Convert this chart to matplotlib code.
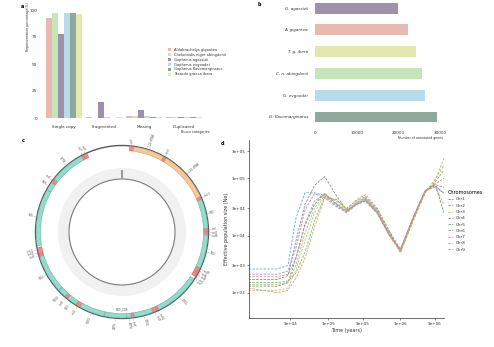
import numpy as np
import matplotlib.pyplot as plt
from matplotlib.patches import Wedge, Circle

# ---- a: BUSCO completeness ----
busco_cats = ['Single copy', 'Fragmented', 'Missing', 'Duplicated']
busco_species = ['Aldabrachelys gigantea', 'Chelonoidis niger abingdonii', 'Gopherus agassizii',
                 'Gopherus evgoodei', 'Gopherus flavomarginatus', 'Testudo graeca ibera']
busco_vals = [
    [92.3, 0.5, 1.9, 0.5],
    [97.0, 0.4, 1.5, 0.6],
    [77.5, 15.0, 7.8, 1.3],
    [97.0, 0.5, 2.0, 0.6],
    [97.5, 0.4, 1.2, 1.0],
    [96.0, 0.5, 1.0, 0.7],
]
busco_colors = ['#e8b9b1', '#c7e5b8', '#9e92ab', '#b6dbea', '#8ea99c', '#e4e8b0']

# ---- b: annotated genes ----
gene_species = ['G. flavomarginatus', 'G. evgoodei', 'C. n. abingdonii', 'T. g. ibera', 'A. gigantea', 'G. agassizii']
gene_counts = [29200, 26500, 25700, 24200, 22300, 20000]
gene_colors = ['#8ea99c', '#b6dbea', '#c7e5b8', '#e4e8b0', '#e8b9b1', '#9e92ab']

# ---- c: mitogenome map (bp) ----
mito_len = 16500
mito_names = ['trnF', '12S rRNA', 'trnV', '16S rRNA', 'trnL2', 'ND1', 'trnI', 'trnQ', 'trnM', 'ND2',
              'trnW', 'trnA', 'trnN', 'trnC', 'trnY', 'COX1', 'trnS2', 'trnD', 'COX2', 'trnK', 'ATP8',
              'ATP6', 'COX3', 'trnG', 'ND3', 'trnR', 'ND4L', 'ND4', 'trnH', 'trnS1', 'trnL1', 'ND5',
              'ND6', 'trnE', 'CYTB', 'trnT', 'trnP']
mito_start = [230, 370, 1330, 1420, 3020, 3110, 4030, 4080, 4130, 4220, 5270, 5320, 5370, 5420, 5470,
              5640, 7100, 7150, 7290, 7880, 7970, 8110, 8800, 9600, 9740, 10060, 10150, 10420, 11620,
              11670, 11720, 11950, 13720, 13990, 14120, 15220, 15290]
mito_end = [360, 1320, 1410, 3010, 3100, 4020, 4070, 4120, 4200, 5260, 5310, 5360, 5410, 5460, 5560,
            7090, 7140, 7280, 7870, 7960, 8100, 8790, 9590, 9730, 10050, 10140, 10410, 11610, 11660,
            11710, 11900, 13710, 13980, 14110, 15210, 15280, 15400]
mito_type = ['tRNA', 'rRNA', 'tRNA', 'rRNA', 'tRNA', 'CDS', 'tRNA', 'tRNA', 'tRNA', 'CDS',
             'tRNA', 'tRNA', 'tRNA', 'tRNA', 'tRNA', 'CDS', 'tRNA', 'tRNA', 'CDS', 'tRNA', 'CDS',
             'CDS', 'CDS', 'tRNA', 'CDS', 'tRNA', 'CDS', 'CDS', 'tRNA', 'tRNA', 'tRNA', 'CDS',
             'CDS', 'tRNA', 'CDS', 'tRNA', 'tRNA']
type_colors = {'CDS': '#93dccb', 'rRNA': '#f3c996', 'tRNA': '#ec8c8c'}
type_edges = {'CDS': '#4fa58f', 'rRNA': '#c8955c', 'tRNA': '#d06060'}

# ---- d: PSMC ----
psmc_time = [8e3, 2.0e4, 2.8e4, 3.6e4, 4.8e4, 6.5e4, 9e4, 1.3e5, 1.8e5, 2.5e5, 3.3e5, 4.8e5,
             7e5, 1.0e6, 1.5e6, 2.2e6, 3.0e6, 4.0e6]
chr_names = ['Chr1', 'Chr2', 'Chr3', 'Chr4', 'Chr5', 'Chr6', 'Chr7', 'Chr8', 'Chr9']
chr_ne = [
    [1.3e3, 1.3e3, 1.5e3, 4e3, 1.5e4, 3.5e4, 5.5e4, 3.5e4, 2.6e4, 3.6e4, 4.3e4, 2.6e4, 1.1e4, 5.5e3, 2.0e4, 6.0e4, 8e4, 2.5e4],
    [2.6e3, 2.6e3, 3e3, 2e4, 5.6e4, 5.6e4, 5e4, 3.3e4, 2.7e4, 3.8e4, 4.5e4, 2.8e4, 1.2e4, 5.8e3, 2.1e4, 6.2e4, 7e4, 5.5e4],
    [1.1e3, 1.1e3, 1.2e3, 2.5e3, 8e3, 2.5e4, 5.2e4, 4e4, 2.8e4, 3.9e4, 4.6e4, 2.7e4, 1.1e4, 5.2e3, 1.9e4, 5.8e4, 9e4, 2.3e5],
    [1.7e3, 1.7e3, 2e3, 8e3, 3.5e4, 7.5e4, 1.08e5, 5e4, 2.8e4, 3.5e4, 4e4, 2.4e4, 1e4, 5.6e3, 2.0e4, 6.0e4, 7.5e4, 5.5e4],
    [1.5e3, 1.5e3, 1.6e3, 2.2e3, 5e3, 1.8e4, 4.8e4, 4.2e4, 3e4, 4.1e4, 4.8e4, 2.9e4, 1.2e4, 5e3, 1.8e4, 5.6e4, 8.5e4, 1.4e5],
    [2.1e3, 2.1e3, 2.4e3, 6e3, 2.8e4, 5.4e4, 4.6e4, 3.2e4, 2.5e4, 3.5e4, 4.2e4, 2.6e4, 1.05e4, 5.4e3, 2.0e4, 6.1e4, 7.8e4, 7e4],
    [1.2e3, 1.0e3, 1.1e3, 1.8e3, 4e3, 1.4e4, 4.5e4, 4.3e4, 2.9e4, 4.3e4, 5.2e4, 3e4, 1.2e4, 5.3e3, 1.9e4, 5.9e4, 7.2e4, 3.5e4],
    [1.4e3, 1.4e3, 1.5e3, 3e3, 1.1e4, 3e4, 5.4e4, 3.7e4, 2.7e4, 3.7e4, 4.4e4, 2.5e4, 1e4, 5.1e3, 1.9e4, 5.7e4, 9.5e4, 1.7e5],
    [1.9e3, 1.9e3, 2.1e3, 4e3, 1.6e4, 4e4, 5.3e4, 3.6e4, 2.6e4, 3.6e4, 4.1e4, 2.5e4, 1.05e4, 5.7e3, 2.05e4, 6.0e4, 8e4, 1e5],
]
chr_colors = ['#4f9a94', '#6fa8c8', '#b5c98a', '#8a8a8a', '#7fb07f', '#a58cc0', '#d9a066', '#c9b35e', '#c29090']

W, H = 494, 347
fig = plt.figure(figsize=(W / 100, H / 100), dpi=100)
txt = '#333333'


def box(x0, y0, x1, y1):
    # pixel box -> figure fraction
    return [x0 / W, 1 - y1 / H, (x1 - x0) / W, (y1 - y0) / H]


# ---------- panel a ----------
ax = fig.add_axes(box(40, 10, 208, 118))
x = np.arange(len(busco_cats))
bw = 0.15
for i, sp in enumerate(busco_species):
    ax.bar(x + (i - 2.5) * bw, busco_vals[i], bw, color=busco_colors[i], label=sp)
ax.set_xlim(-0.6, 3.6)
ax.set_ylim(0, 100)
ax.set_yticks([0, 25, 50, 75, 100])
ax.set_xticks(x)
ax.set_xticklabels(busco_cats)
ax.tick_params(length=0, labelsize=3, colors=txt, pad=2)
ax.tick_params(axis='x', pad=5)
for s in ax.spines.values():
    s.set_visible(False)
ax.legend(loc='upper left', bbox_to_anchor=((166 - 40) / 168, 1 - (46 - 10) / 108), fontsize=2.6,
          frameon=False, handlelength=1.0, handleheight=0.9, handletextpad=0.6, labelspacing=0.25,
          borderpad=0, labelcolor=txt)
fig.text(195 / W, 1 - 132 / H, 'Busco categories', fontsize=2.4, color=txt, ha='center', va='center')
fig.text(28 / W, 1 - 27 / H, 'Representation percentage(%)', fontsize=2.3, color=txt,
         rotation=90, ha='center', va='center')
fig.text(22 / W, 1 - 6 / H, 'a', fontsize=3.5, fontweight='bold', ha='center', va='center')

# ---------- panel b ----------
ax = fig.add_axes(box(315, 0, 442, 127))
y = np.arange(len(gene_species))
ax.barh(y, gene_counts, height=0.5, color=gene_colors)
ax.set_yticks(y)
ax.set_yticklabels(gene_species, fontstyle='italic')
ax.set_xlim(0, 30500)
ax.set_ylim(-0.46, 5.37)
ax.set_xticks([0, 10000, 20000, 30000])
ax.tick_params(length=0, labelsize=3, colors=txt)
ax.tick_params(axis='y', pad=5)
ax.tick_params(axis='x', pad=3)
for s in ax.spines.values():
    s.set_visible(False)
fig.text(443 / W, 1 - 138 / H, 'Number of annotated genes', fontsize=2.3, color=txt, ha='right', va='center')
fig.text(259 / W, 1 - 5 / H, 'b', fontsize=3.5, fontweight='bold', ha='center', va='center')

# ---------- panel c ----------
ax = fig.add_axes(box(0, 135, 245, 347))
ax.set_xlim(0, 245)
ax.set_ylim(0, 212)
ax.axis('off')
cx, cy = 122, 347 - 232
ax.add_patch(Wedge((cx, cy), 64, 0, 360, width=11, facecolor='#f1f1f1', edgecolor='none'))
ax.add_patch(Circle((cx, cy), 53, fill=False, edgecolor='#7a7a7a', lw=0.8))
ax.add_patch(Wedge((cx, cy), 62, 89, 91, width=9, facecolor='#9a9a9a', edgecolor='none'))
ax.add_patch(Circle((cx, cy), 86.5, fill=False, edgecolor='#5a5a5a', lw=1.0))

mids = []
for s, e, t in zip(mito_start, mito_end, mito_type):
    a0 = s / mito_len * 360
    a1 = e / mito_len * 360
    ax.add_patch(Wedge((cx, cy), 86, 90 - a1, 90 - a0, width=4.5, facecolor=type_colors[t],
                       edgecolor=type_edges[t], lw=0.3))
    mids.append((a0 + a1) / 2)

# spread crowded labels apart a little
lab_ang = list(mids)
for i in range(1, len(lab_ang)):
    if lab_ang[i] - lab_ang[i - 1] < 2.2:
        lab_ang[i] = lab_ang[i - 1] + 2.2

for nm, am, a_true in zip(mito_names, lab_ang, mids):
    th = np.deg2rad(90 - am)
    tt = np.deg2rad(90 - a_true)
    ax.plot([cx + 87 * np.cos(tt), cx + 89.5 * np.cos(th)], [cy + 87 * np.sin(tt), cy + 89.5 * np.sin(th)],
            color='#888888', lw=0.2)
    r = 90
    rot = 90 - am
    ha = 'left'
    if am > 180:
        rot += 180
        ha = 'right'
    ax.text(cx + r * np.cos(th), cy + r * np.sin(th), nm, fontsize=2.0, color='#555555',
            rotation=rot, rotation_mode='anchor', ha=ha, va='center')
ax.text(cx, cy - 77, 'ND5_CDS', fontsize=2.0, color='#555555', ha='center', va='center')
fig.text(23 / W, 1 - 140 / H, 'c', fontsize=3.5, fontweight='bold', ha='center', va='center')

# ---------- panel d ----------
ax = fig.add_axes(box(249, 140, 444, 318))
for nm, ne, c in zip(chr_names, chr_ne, chr_colors):
    ax.plot(psmc_time, ne, ls='--', lw=0.6, color=c, label=nm, dashes=(3, 1.5))
ax.set_xscale('log')
ax.set_yscale('log')
ax.set_xlim(8.1e3, 4.0e6)
ax.set_ylim(3.6e2, 4.7e5)
ax.set_xticks([3e4, 1e5, 3e5, 1e6, 3e6])
ax.set_xticklabels(['3e+04', '1e+05', '3e+05', '1e+06', '3e+06'])
ax.set_yticks([1e3, 3e3, 1e4, 3e4, 1e5, 3e5])
ax.set_yticklabels(['1e+03', '3e+03', '1e+04', '3e+04', '1e+05', '3e+05'])
ax.minorticks_off()
ax.tick_params(length=1.2, width=0.4, labelsize=3, colors=txt, pad=1.5)
ax.spines['top'].set_visible(False)
ax.spines['right'].set_visible(False)
for s in ['left', 'bottom']:
    ax.spines[s].set_linewidth(0.5)
    ax.spines[s].set_color('#333333')
ax.set_xlabel('Time (years)', fontsize=3.5, color=txt, labelpad=1.5)
ax.set_ylabel('Effective population size (Ne)', fontsize=3.5, color=txt, labelpad=2)
leg = ax.legend(title='Chromosomes', loc='upper left', bbox_to_anchor=(1.01, 1 - (188 - 140) / 178),
                fontsize=3, title_fontsize=3.5, frameon=False, handlelength=1.2,
                handletextpad=0.6, labelspacing=0.55, borderpad=0, labelcolor=txt)
leg._legend_box.align = 'left'
fig.text(222 / W, 1 - 144 / H, 'd', fontsize=3.5, fontweight='bold', ha='center', va='center')

fig.savefig('out.png', dpi=100)
